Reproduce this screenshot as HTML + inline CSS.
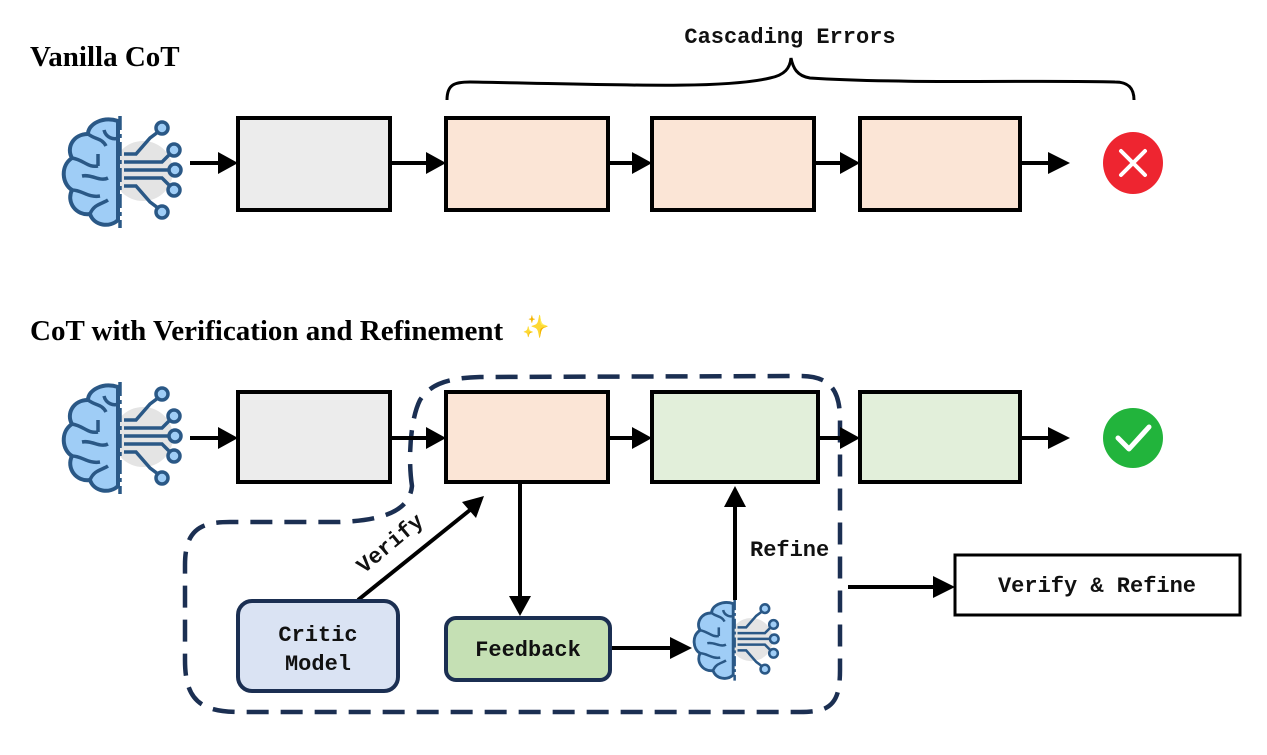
<!DOCTYPE html>
<html><head><meta charset="utf-8"><style>
html,body{margin:0;padding:0;background:#fff;}
svg{display:block;}
.t{font-family:"Liberation Serif",serif;font-weight:bold;font-size:29px;fill:#000;}
.m{font-family:"Liberation Mono",monospace;font-weight:bold;font-size:22px;fill:#111;}
</style></head><body>
<svg width="1267" height="755" viewBox="0 0 1267 755" xmlns="http://www.w3.org/2000/svg">
<defs>
<g id="brain">
  <circle cx="85" cy="55" r="30" fill="#e4e4e4"/>
  <path d="M60,5 C45,0 30,8 30,18 C15,18 8,32 14,42 C2,50 4,68 14,74 C8,86 18,100 32,98 C36,110 52,112 60,104 Z" fill="#9fcdf6" stroke="#2a5886" stroke-width="4" stroke-linejoin="round"/>
  <path d="M30,18 C38,24 44,22 48,30 M14,42 C26,44 30,52 40,50 M24,60 C34,58 42,66 50,62 M14,74 C24,74 30,82 42,80 M32,98 C36,88 44,88 50,84 M46,14 C48,22 56,24 60,22 M40,50 L40,38" fill="none" stroke="#2a5886" stroke-width="3.5"/>
  <line x1="62" y1="0" x2="62" y2="112" stroke="#2a5886" stroke-width="3.5" stroke-dasharray="14,4,4,4"/>
  <g stroke="#2a5886" stroke-width="3.5" fill="none">
    <path d="M66,38 L78,38 L92,22 L100,16"/>
    <path d="M66,46 L104,46 L112,38"/>
    <path d="M66,54 L110,54"/>
    <path d="M66,62 L104,62 L112,70"/>
    <path d="M66,70 L78,70 L92,86 L100,92"/>
  </g>
  <g fill="#9fcdf6" stroke="#2a5886" stroke-width="3.5">
    <circle cx="104" cy="12" r="6"/><circle cx="116" cy="34" r="6"/><circle cx="117" cy="54" r="6"/><circle cx="116" cy="74" r="6"/><circle cx="104" cy="96" r="6"/>
  </g>
</g>
</defs>

<text x="30" y="66" class="t">Vanilla CoT</text>
<text x="30" y="340" class="t">CoT with Verification and Refinement</text>
<text x="522" y="334" font-size="22" fill="#f5c400">✨</text>

<text x="790" y="43" class="m" text-anchor="middle">Cascading Errors</text>
<path d="M447,100 C447,84 455,82 470,82 C600,84 720,90 770,78 C785,75 790,68 791,58 C793,68 797,76 810,78 C900,84 1050,80 1115,82 C1130,82 1134,90 1134,100" fill="none" stroke="#000" stroke-width="3"/>

<use href="#brain" x="58" y="116"/>
<g stroke="#000" stroke-width="4">
<rect x="238" y="118" width="152" height="92" fill="#ececec"/>
<rect x="446" y="118" width="162" height="92" fill="#fbe5d6"/>
<rect x="652" y="118" width="162" height="92" fill="#fbe5d6"/>
<rect x="860" y="118" width="160" height="92" fill="#fbe5d6"/>
</g>
<g stroke="#000" stroke-width="4">
<line x1="190" y1="163" x2="220" y2="163"/><line x1="390" y1="163" x2="428" y2="163"/>
<line x1="608" y1="163" x2="634" y2="163"/><line x1="814" y1="163" x2="842" y2="163"/>
<line x1="1020" y1="163" x2="1050" y2="163"/>
</g>
<g fill="#000">
<polygon points="218,152 238,163 218,174"/><polygon points="426,152 446,163 426,174"/>
<polygon points="632,152 652,163 632,174"/><polygon points="840,152 860,163 840,174"/>
<polygon points="1048,152 1070,163 1048,174"/>
</g>
<ellipse cx="1133" cy="163" rx="30" ry="31" fill="#ee2530"/>
<path d="M1121,151 L1145,175 M1145,151 L1121,175" stroke="#fff" stroke-width="4" stroke-linecap="round"/>

<use href="#brain" x="58" y="382"/>
<path d="M412,486 C408,460 410,420 420,400 C430,385 445,378 480,377 L800,376 C830,376 840,390 840,420 L840,670 C840,705 830,712 800,712 L240,712 C200,712 185,700 185,660 L185,565 C185,530 200,522 230,522 L340,522 C395,520 410,505 412,486 Z" fill="none" stroke="#1b2f52" stroke-width="4.5" stroke-dasharray="22,12"/>
<g stroke="#000" stroke-width="4">
<rect x="238" y="392" width="152" height="90" fill="#ececec"/>
<rect x="446" y="392" width="162" height="90" fill="#fbe5d6"/>
<rect x="652" y="392" width="166" height="90" fill="#e2efda"/>
<rect x="860" y="392" width="160" height="90" fill="#e2efda"/>
</g>
<g stroke="#000" stroke-width="4">
<line x1="190" y1="438" x2="220" y2="438"/><line x1="390" y1="438" x2="428" y2="438"/>
<line x1="608" y1="438" x2="634" y2="438"/><line x1="818" y1="438" x2="842" y2="438"/>
<line x1="1020" y1="438" x2="1050" y2="438"/>
<line x1="520" y1="482" x2="520" y2="598"/>
<line x1="735" y1="600" x2="735" y2="505"/>
<line x1="358" y1="600" x2="470" y2="510"/>
<line x1="610" y1="648" x2="672" y2="648"/>
<line x1="848" y1="587" x2="935" y2="587"/>
</g>
<g fill="#000">
<polygon points="218,427 238,438 218,449"/><polygon points="426,427 446,438 426,449"/>
<polygon points="632,427 652,438 632,449"/><polygon points="840,427 860,438 840,449"/>
<polygon points="1048,427 1070,438 1048,449"/>
<polygon points="509,596 531,596 520,616"/>
<polygon points="724,507 746,507 735,486"/>
<polygon points="462,502 484,496 476,518"/>
<polygon points="670,637 692,648 670,659"/>
<polygon points="933,576 955,587 933,598"/>
</g>
<circle cx="1133" cy="438" r="30" fill="#22b43c"/>
<path d="M1118,438 L1129,449 L1149,427" fill="none" stroke="#fff" stroke-width="5" stroke-linecap="round" stroke-linejoin="round"/>

<text x="0" y="0" class="m" transform="translate(364,574) rotate(-40)">Verify</text>
<text x="750" y="556" class="m">Refine</text>

<rect x="238" y="601" width="160" height="90" rx="14" fill="#dae3f3" stroke="#1b2f52" stroke-width="4"/>
<text x="318" y="641" class="m" text-anchor="middle">Critic</text>
<text x="318" y="670" class="m" text-anchor="middle">Model</text>
<rect x="446" y="618" width="164" height="62" rx="10" fill="#c5e0b4" stroke="#1b2f52" stroke-width="4"/>
<text x="528" y="656" class="m" text-anchor="middle">Feedback</text>

<g transform="translate(690,600) scale(0.72)"><use href="#brain"/></g>

<rect x="955" y="555" width="285" height="60" fill="#fff" stroke="#000" stroke-width="3"/>
<text x="1097" y="592" class="m" text-anchor="middle">Verify &amp; Refine</text>
</svg>
</body></html>
